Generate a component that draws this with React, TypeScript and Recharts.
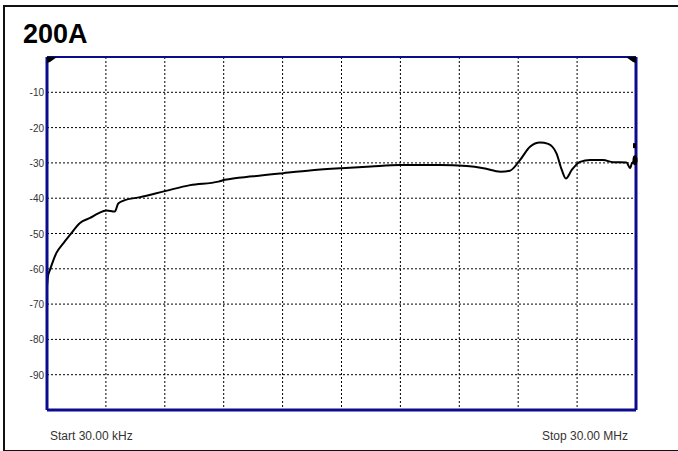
import React from 'react'
import { CartesianGrid, Line, LineChart, ReferenceDot, ReferenceLine, XAxis, YAxis } from 'recharts';

// trace: x is % of the sweep span, y is dB
const sweepPct = [0, 0.2, 0.5, 1.6, 2.8, 3.9, 5.6, 7.3, 8.7, 10.1, 11.5, 12.1, 13, 15.8, 20, 24.3, 29.1, 30.2, 35, 40.1, 45, 50, 55, 59.9, 66.7, 71.3, 74.1, 77, 78.6, 80.3, 82, 83.7, 85.1, 86.5, 87.4, 88.1, 89.1, 90.5, 92.2, 94.4, 96.1, 98.4, 99, 99.3, 99.8];
const traceDb = [-65, -61.8, -60.3, -55.5, -52.7, -50.4, -47, -45.6, -44.3, -43.5, -43.8, -41.5, -40.7, -39.7, -38, -36.3, -35.3, -34.8, -33.8, -32.9, -32.1, -31.5, -31, -30.6, -30.6, -30.9, -31.5, -32.5, -32.2, -29.2, -25.4, -24.2, -24.6, -27.3, -32, -34.4, -32, -29.7, -29.2, -29.2, -29.8, -29.9, -31.5, -30.1, -29.5];

const yTicks = [-100, -90, -80, -70, -60, -50, -40, -30, -20, -10, 0];
const xTicks = [0, 10, 20, 30, 40, 50, 60, 70, 80, 90, 100];
const startLabel = 'Start 30.00 kHz';
const stopLabel = 'Stop 30.00 MHz';
const title = '200A';

const BLUE = '#0b0b8f';

const data = sweepPct.map((x, i) => ({ x, db: traceDb[i] }));

const YTick = ({ x, y, payload }: any) => {
    if (payload.value === 0 || payload.value === -100) return null;
    return (
        <text x={x - 1} y={y} dy={4} textAnchor="end" fontSize={10} fill="#333" fontFamily="'Liberation Sans', Arial, sans-serif">
            {payload.value}
        </text>
    );
};

const XTick = ({ x, y, payload }: any) => {
    if (payload.value !== 0 && payload.value !== 100) return null;
    const isStart = payload.value === 0;
    return (
        <text x={isStart ? x + 3 : x - 8} y={y + 22} textAnchor={isStart ? 'start' : 'end'} fontSize={12} fill="#333" fontFamily="'Liberation Sans', Arial, sans-serif">
            {isStart ? startLabel : stopLabel}
        </text>
    );
};

//small corner flags drawn at the top of the graticule
const Flag = ({ cx, cy, side }: any) => {
    const d = side === 'left'
        ? `M${cx},${cy} L${cx + 10},${cy} L${cx + 3},${cy + 5} L${cx},${cy + 6} Z`
        : `M${cx},${cy} L${cx - 10},${cy} L${cx - 3},${cy + 5} L${cx},${cy + 6} Z`;
    return <path d={d} fill="#000" />;
};

const EndMarker = ({ cx, cy }: any) => (
    <g>
        <ellipse cx={cx - 1} cy={cy - 1} rx={2.5} ry={5} fill="#000" />
        <rect x={cx - 3} y={cy - 18} width={3} height={5} fill="#000" />
    </g>
);

export default function App() {
    return (
        <div style={{ position: 'absolute', left: 0, top: 0, width: 678, height: 451, background: '#fff', overflow: 'hidden' }}>
            <div style={{ position: 'absolute', left: 3, top: 5, width: 700, height: 443, borderTop: '2px solid #111', borderLeft: '2px solid #111', borderBottom: '2px solid #111' }} />
            <div style={{ position: 'absolute', left: 23, top: 18, fontFamily: "'Liberation Sans', Arial, sans-serif", fontWeight: 'bold', fontSize: 27, lineHeight: '32px', color: '#000' }}>
                {title}
            </div>
            <div style={{ position: 'absolute', left: 0, top: 0 }}>
                <LineChart width={678} height={451} data={data} margin={{ top: 57, right: 42, bottom: 0, left: 0 }}>
                    <CartesianGrid stroke="#000" strokeDasharray="2 2" strokeWidth={1} horizontalValues={yTicks} verticalValues={xTicks} />
                    <XAxis dataKey="x" type="number" domain={[0, 100]} ticks={xTicks} height={41} axisLine={{ stroke: BLUE, strokeWidth: 3 }} tickLine={false} tick={<XTick />} interval={0} />
                    <YAxis type="number" domain={[-100, 0]} ticks={yTicks} width={47} axisLine={{ stroke: BLUE, strokeWidth: 3 }} tickLine={false} tickSize={0} tick={<YTick />} interval={0} />
                    <ReferenceLine y={0} stroke={BLUE} strokeWidth={2} />
                    <ReferenceLine x={100} stroke={BLUE} strokeWidth={3} />
                    <Line dataKey="db" type="monotone" stroke="#000" strokeWidth={2} dot={false} isAnimationActive={false} />
                    <ReferenceDot x={0} y={0} r={0} shape={(p: any) => <Flag {...p} side="left" />} />
                    <ReferenceDot x={100} y={0} r={0} shape={(p: any) => <Flag {...p} side="right" />} />
                    <ReferenceDot x={100} y={-29.5} r={0} shape={(p: any) => <EndMarker {...p} />} />
                </LineChart>
            </div>
        </div>
    )
}
